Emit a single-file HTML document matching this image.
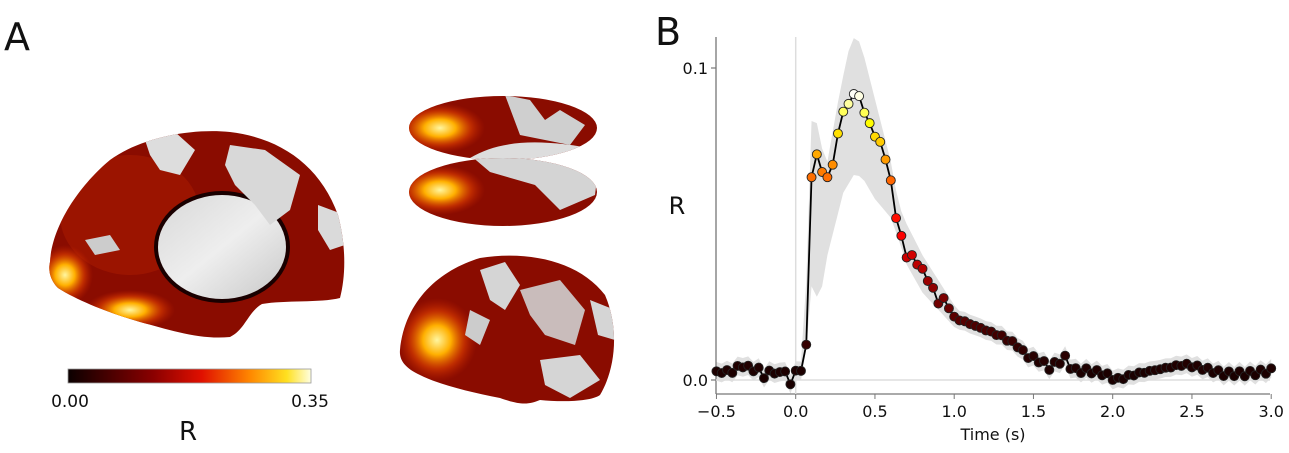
<!DOCTYPE html>
<html><head><meta charset="utf-8">
<style>
html,body{margin:0;padding:0;background:#fff;}
svg{display:block;font-family:"DejaVu Sans","Liberation Sans",sans-serif;}
</style></head>
<body>
<svg id="s" width="1289" height="453" viewBox="0 0 1289 453" xmlns="http://www.w3.org/2000/svg">
<defs>
<linearGradient id="hot" x1="0" x2="1" y1="0" y2="0">
<stop offset="0" stop-color="#0b0000"/><stop offset="0.35" stop-color="#8a0000"/>
<stop offset="0.55" stop-color="#e01000"/><stop offset="0.75" stop-color="#ff8800"/>
<stop offset="0.9" stop-color="#ffe020"/><stop offset="1" stop-color="#ffffe0"/>
</linearGradient>
<radialGradient id="glow1" cx="0.5" cy="0.5" r="0.5"><stop offset="0" stop-color="#fff6a0"/><stop offset="0.35" stop-color="#ffb000"/><stop offset="0.7" stop-color="#e04000" stop-opacity="0.6"/><stop offset="1" stop-color="#c02000" stop-opacity="0"/></radialGradient>
<linearGradient id="gray" x1="0" x2="1" y1="0" y2="1"><stop offset="0" stop-color="#d8d8d8"/><stop offset="0.5" stop-color="#eeeeee"/><stop offset="1" stop-color="#c8c8c8"/></linearGradient>
<clipPath id="c1"><path d="M50,262 C52,225 80,185 110,160 C140,138 190,128 230,132 C280,138 320,165 338,215 C346,245 346,275 340,298 C320,303 285,300 262,304 C248,312 245,330 230,337 C200,340 170,330 140,322 C110,313 80,302 58,288 C50,280 48,270 50,262 Z"/></clipPath>
<clipPath id="c2"><ellipse cx="503" cy="128" rx="94" ry="32"/></clipPath>
<clipPath id="c3"><ellipse cx="503" cy="192" rx="94" ry="34"/></clipPath>
<clipPath id="c4"><path d="M400,350 C405,300 440,270 480,258 C530,250 580,262 605,295 C620,330 615,370 600,395 C590,402 560,402 540,400 C528,405 520,405 500,398 C470,392 440,385 420,375 C405,368 399,360 400,350 Z"/></clipPath>
</defs>
<text x="4" y="50" font-size="38" fill="#111">A</text>
<text x="655" y="45" font-size="38" fill="#111">B</text>

<!-- medial brain -->
<g clip-path="url(#c1)">
<rect x="40" y="120" width="320" height="230" fill="#8a0c00"/>
<ellipse cx="130" cy="215" rx="70" ry="60" fill="#b02000" opacity="0.45"/>
<ellipse cx="65" cy="275" rx="28" ry="30" fill="url(#glow1)"/>
<ellipse cx="130" cy="310" rx="45" ry="20" fill="url(#glow1)"/>
<ellipse cx="222" cy="247" rx="68" ry="56" fill="#1a0000"/>
<ellipse cx="222" cy="247" rx="64" ry="52" fill="url(#gray)"/>
<path d="M145,140 L175,132 L195,150 L180,175 L160,170 L150,155 Z" fill="#ddd"/>
<path d="M230,145 L265,150 L300,175 L290,210 L270,225 L255,205 L235,185 L225,165 Z" fill="#d8d8d8"/>
<path d="M318,205 L345,215 L345,245 L330,250 L318,230 Z" fill="#dadada"/>
<path d="M85,240 L110,235 L120,250 L95,255 Z" fill="#ccc"/>
</g>

<!-- ventral views -->
<g clip-path="url(#c2)">
<rect x="400" y="90" width="210" height="80" fill="#8a0c00"/>
<ellipse cx="440" cy="128" rx="45" ry="25" fill="url(#glow1)"/>
<path d="M470,158 C500,140 540,138 600,150 L600,165 L470,165 Z" fill="#ddd"/>
<path d="M505,95 L530,100 L545,120 L560,110 L585,125 L570,145 L520,135 Z" fill="#cfcfcf"/>
</g>
<g clip-path="url(#c3)">
<rect x="400" y="155" width="210" height="80" fill="#8a0c00"/>
<ellipse cx="440" cy="190" rx="45" ry="25" fill="url(#glow1)"/>
<path d="M470,155 L600,155 L595,195 L560,210 L535,185 L490,172 Z" fill="#d4d4d4"/>
</g>

<!-- lateral -->
<g clip-path="url(#c4)">
<rect x="395" y="250" width="230" height="160" fill="#8a0c00"/>
<ellipse cx="437" cy="340" rx="40" ry="42" fill="url(#glow1)"/>
<path d="M480,270 L505,262 L520,285 L505,310 L490,300 Z" fill="#d5d5d5"/>
<path d="M520,290 L560,280 L585,310 L575,345 L545,335 L530,315 Z" fill="#cfcfcf" opacity="0.9"/>
<path d="M540,360 L580,355 L600,380 L570,398 L545,385 Z" fill="#d5d5d5"/>
<path d="M470,310 L490,320 L480,345 L465,335 Z" fill="#ccc"/>
<path d="M590,300 L615,310 L615,340 L598,335 Z" fill="#d5d5d5"/>
</g>

<!-- colorbar -->
<rect x="68" y="369" width="243" height="14" fill="url(#hot)" stroke="#999" stroke-width="0.8"/>
<text x="70" y="407" font-size="17" text-anchor="middle" fill="#111">0.00</text>
<text x="310" y="407" font-size="17" text-anchor="middle" fill="#111">0.35</text>
<text x="188" y="440" font-size="26" text-anchor="middle" fill="#111">R</text>

<!-- chart B -->
<g id="chart"></g>
<line x1="716" y1="37" x2="716" y2="394" stroke="#777" stroke-width="1.3"/>
<line x1="716" y1="394" x2="1270" y2="394" stroke="#777" stroke-width="1.3"/>
<line x1="795.7" y1="37" x2="795.7" y2="394" stroke="#ddd" stroke-width="1.5"/>
<line x1="716" y1="380" x2="1270" y2="380" stroke="#ddd" stroke-width="1.5"/>
<g stroke="#777" stroke-width="1.2">
<line x1="711" y1="68" x2="716" y2="68"/><line x1="711" y1="380" x2="716" y2="380"/>
</g>
<g font-size="16" fill="#111" text-anchor="end">
<text x="708" y="74">0.1</text><text x="708" y="386">0.0</text>
</g>
<text x="677" y="214" font-size="24" fill="#111" text-anchor="middle">R</text>
<g id="xt" font-size="16" fill="#111" text-anchor="middle"></g>
<text x="993" y="440" font-size="16" fill="#111" text-anchor="middle">Time (s)</text>
<g id="pts"></g>
</svg>
<script>
var X=function(t){return 795.7+t*158.5}, Y=function(r){return 380-r*3120};
var xt=document.getElementById('xt'),ns="http://www.w3.org/2000/svg";
[-0.5,0,0.5,1,1.5,2,2.5,3].forEach(function(t){
 var l=document.createElementNS(ns,'line');l.setAttribute('x1',X(t));l.setAttribute('x2',X(t));l.setAttribute('y1',394);l.setAttribute('y2',399);l.setAttribute('stroke','#777');document.getElementById('s').appendChild(l);
 var e=document.createElementNS(ns,'text');e.setAttribute('x',X(t));e.setAttribute('y',417);e.textContent=(t<0?'\u2212':'')+Math.abs(t).toFixed(1);xt.appendChild(e);});
var K=[[-0.5,0.002],[-0.48,0.005],[-0.46,0.002],[-0.4,0.003],[-0.32,0.005],[-0.28,0.003],[-0.24,0.004],[-0.2,0.001],[-0.16,0.003],[-0.12,0.002],[-0.06,0.003],[-0.03,-0.002],[0.0,0.003],[0.05,0.003],[0.07,0.013],[0.1,0.065],[0.13,0.073],[0.16,0.067],[0.2,0.065],[0.23,0.068],[0.27,0.08],[0.3,0.086],[0.34,0.089],[0.37,0.092],[0.4,0.091],[0.43,0.086],[0.47,0.082],[0.5,0.078],[0.54,0.076],[0.57,0.07],[0.61,0.062],[0.64,0.049],[0.67,0.045],[0.7,0.04],[0.75,0.039],[0.8,0.035],[0.85,0.031],[0.9,0.025],[0.94,0.026],[1.0,0.02],[1.1,0.018],[1.2,0.016],[1.3,0.014],[1.4,0.011],[1.45,0.008],[1.55,0.006],[1.6,0.004],[1.7,0.007],[1.75,0.003],[1.85,0.003],[1.95,0.002],[2.02,0.0],[2.15,0.002],[2.25,0.003],[2.35,0.004],[2.45,0.005],[2.55,0.004],[2.7,0.002],[2.85,0.002],[3.0,0.003]];
var U=[[0.05,0.006],[0.1,0.083],[0.12,0.086],[0.16,0.075],[0.2,0.07],[0.27,0.09],[0.33,0.105],[0.37,0.11],[0.41,0.108],[0.5,0.09],[0.6,0.07],[0.65,0.056],[0.7,0.05],[0.8,0.04],[1.0,0.024]];
var L=[[0.05,0.0],[0.1,0.03],[0.15,0.025],[0.2,0.04],[0.3,0.06],[0.37,0.066],[0.42,0.065],[0.5,0.058],[0.6,0.052],[0.65,0.045],[0.7,0.037],[0.8,0.028],[1.0,0.017]];
function interp(A,t){if(t<=A[0][0])return A[0][1];for(var i=0;i<A.length-1;i++){if(t<=A[i+1][0]){var a=A[i],b=A[i+1],u=(t-a[0])/(b[0]-a[0]);return a[1]+u*(b[1]-a[1]);}}return A[A.length-1][1];}
var pts=[];for(var t=-0.5;t<=3.001;t+=1/30){pts.push([t,interp(K,t)+((t>0.05&&t<0.65)?0:Math.sin(t*97)*0.0008)]);}
var up=[],lo=[];pts.forEach(function(p){var t=p[0],u,l;
 if(t<0.05||t>1.0){u=p[1]+0.003;l=p[1]-0.003;}else{u=interp(U,t);l=interp(L,t);}
 up.push(X(t)+','+Y(u));lo.unshift(X(t)+','+Y(l));});
var ch=document.getElementById('chart');
var b=document.createElementNS(ns,'polygon');b.setAttribute('points',up.concat(lo).join(' '));b.setAttribute('fill','#e0e0e0');ch.appendChild(b);
var pl=document.createElementNS(ns,'polyline');pl.setAttribute('points',pts.map(function(p){return X(p[0])+','+Y(p[1])}).join(' '));pl.setAttribute('fill','none');pl.setAttribute('stroke','#000');pl.setAttribute('stroke-width','1.8');document.getElementById('pts').appendChild(pl);
function hot(v){v=Math.max(0,Math.min(1,v));var r=Math.min(1,0.1+v/0.4),g=Math.max(0,Math.min(1,(v-0.4)/0.45)),bb=Math.max(0,Math.min(1,(v-0.85)/0.15));return 'rgb('+Math.round(r*255)+','+Math.round(g*255)+','+Math.round(bb*255)+')';}
pts.forEach(function(p){var c=document.createElementNS(ns,'circle');c.setAttribute('cx',X(p[0]));c.setAttribute('cy',Y(p[1]));c.setAttribute('r',4.5);var v=Math.max(0,p[1]/0.092);c.setAttribute('fill',hot(Math.pow(v,1.5)));c.setAttribute('stroke','#222');c.setAttribute('stroke-width','0.9');document.getElementById('pts').appendChild(c);});
</script>
</body></html>
